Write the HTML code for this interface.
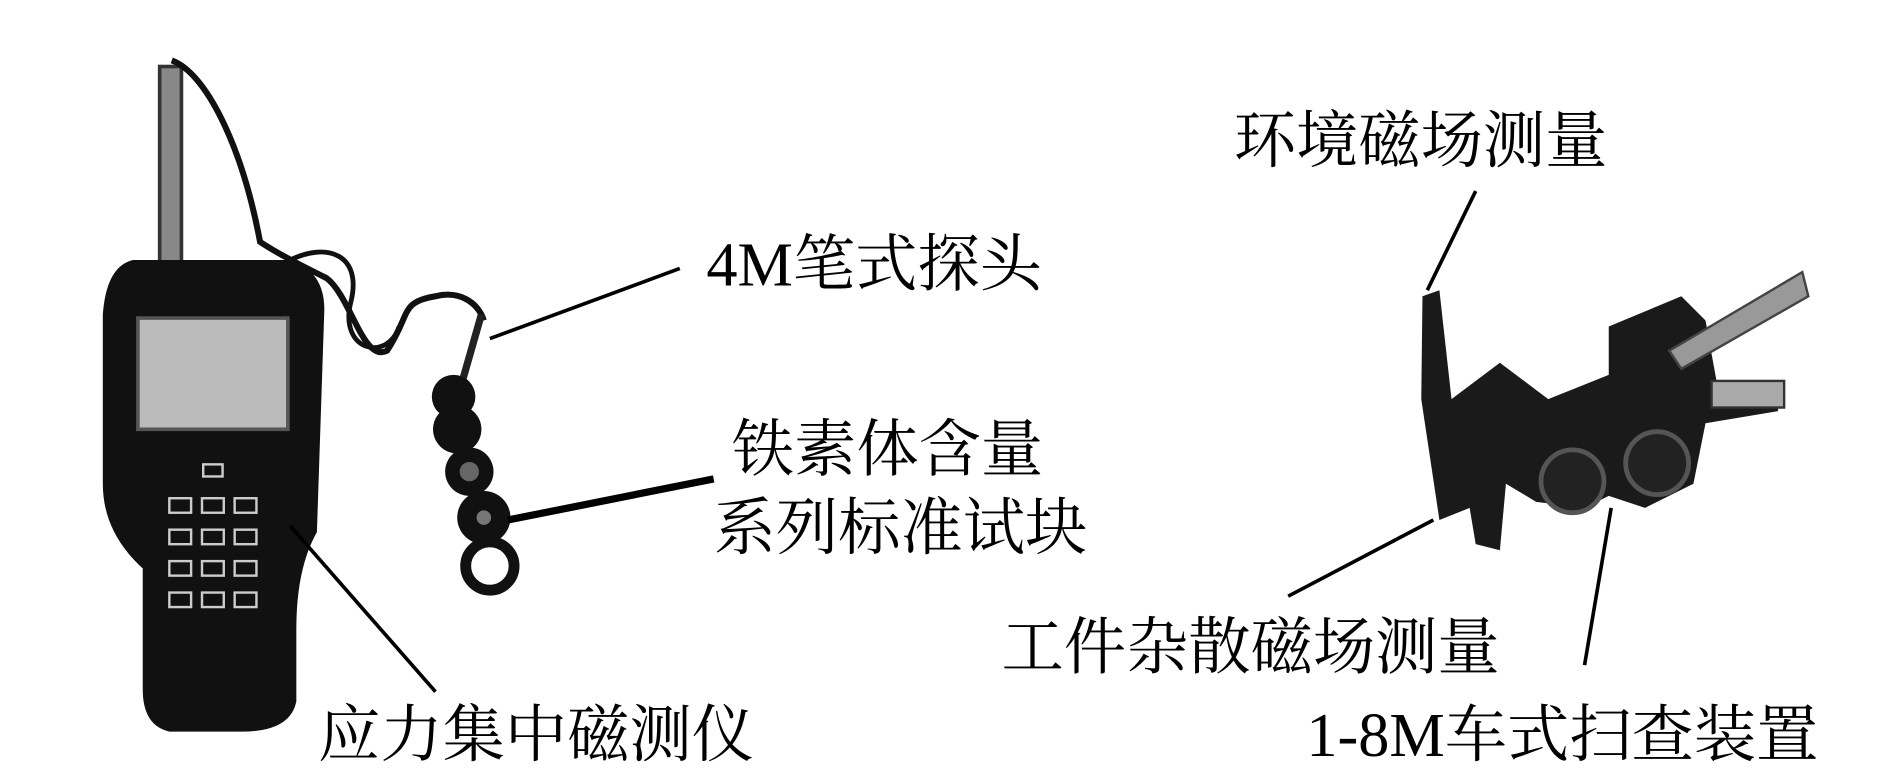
<!DOCTYPE html>
<html><head><meta charset="utf-8"><style>
html,body{margin:0;padding:0;background:#fff;width:1893px;height:780px;overflow:hidden}
svg{display:block}
text{font-family:"Liberation Serif","Noto Serif CJK SC",serif;font-size:51.5px;fill:#000}
</style></head><body>
<svg width="1893" height="780" viewBox="0 0 1565 645" preserveAspectRatio="none">
<!-- handheld -->
<rect x="132" y="55" width="18" height="165" fill="#888" stroke="#333" stroke-width="3"/>
<path d="M142 50 C170 60 200 120 215 200 C230 210 250 220 270 230 C290 245 300 300 320 290 C340 260 330 250 360 245 C380 240 395 250 400 265" fill="none" stroke="#111" stroke-width="5"/>
<path d="M240 215 C270 200 300 210 290 250 C280 290 320 300 330 270" fill="none" stroke="#111" stroke-width="4"/>
<path d="M110 215 L240 215 Q270 225 268 260 L262 440 Q245 470 245 520 L245 580 Q240 605 200 605 L140 605 Q118 600 118 570 L118 470 Q85 440 85 400 L85 260 Q88 220 110 215 Z" fill="#111"/>
<rect x="114" y="263" width="124" height="92" fill="#bbb" stroke="#555" stroke-width="3"/>
<g fill="none" stroke="#ccc" stroke-width="2">
<rect x="168" y="384" width="16" height="10"/>
<rect x="140" y="412" width="18" height="12"/><rect x="167" y="412" width="18" height="12"/><rect x="194" y="412" width="18" height="12"/>
<rect x="140" y="438" width="18" height="12"/><rect x="167" y="438" width="18" height="12"/><rect x="194" y="438" width="18" height="12"/>
<rect x="140" y="464" width="18" height="12"/><rect x="167" y="464" width="18" height="12"/><rect x="194" y="464" width="18" height="12"/>
<rect x="140" y="490" width="18" height="12"/><rect x="167" y="490" width="18" height="12"/><rect x="194" y="490" width="18" height="12"/>
</g>
<!-- pen probe + blocks -->
<line x1="398" y1="260" x2="378" y2="330" stroke="#222" stroke-width="6"/>
<circle cx="375" cy="328" r="18" fill="#111"/>
<circle cx="378" cy="355" r="20" fill="#111"/>
<circle cx="388" cy="390" r="20" fill="#111"/><circle cx="388" cy="390" r="8" fill="#666"/>
<circle cx="400" cy="428" r="22" fill="#111"/><circle cx="400" cy="428" r="6" fill="#777"/>
<circle cx="405" cy="468" r="20" fill="none" stroke="#111" stroke-width="9"/>
<!-- right device -->
<path d="M1176 245 L1190 240 L1200 330 L1240 300 L1280 330 L1330 310 L1330 270 L1390 245 L1410 265 L1420 320 L1470 320 L1470 340 L1410 350 L1400 400 L1360 420 L1330 410 L1310 420 L1270 415 L1245 400 L1240 455 L1220 450 L1215 420 L1190 430 L1175 330 Z" fill="#1a1a1a"/>
<path d="M1380 290 L1490 225 L1495 245 L1390 305 Z" fill="#999" stroke="#444" stroke-width="2"/>
<rect x="1415" y="315" width="60" height="22" fill="#aaa" stroke="#333" stroke-width="2"/>
<circle cx="1300" cy="398" r="26" fill="#222" stroke="#555" stroke-width="4"/>
<circle cx="1370" cy="383" r="26" fill="#222" stroke="#555" stroke-width="4"/>
<!-- leader lines -->
<g stroke="#000" stroke-width="3">
<line x1="240" y1="435" x2="360" y2="572"/>
<line x1="405" y1="280" x2="562" y2="222"/>
<line x1="420" y1="430" x2="590" y2="396" stroke-width="6"/>
<line x1="1220" y1="158" x2="1180" y2="240"/>
<line x1="1185" y1="430" x2="1065" y2="493"/>
<line x1="1332" y1="420" x2="1310" y2="550"/>
</g>
<text x="584" y="236">4M笔式探头</text>
<text x="605" y="389">铁素体含量</text>
<text x="590" y="454">系列标准试块</text>
<text x="263" y="625">应力集中磁测仪</text>
<text x="1020" y="134">环境磁场测量</text>
<text x="828" y="553">工件杂散磁场测量</text>
<text x="1080" y="625">1-8M车式扫查装置</text>
</svg>
</body></html>
